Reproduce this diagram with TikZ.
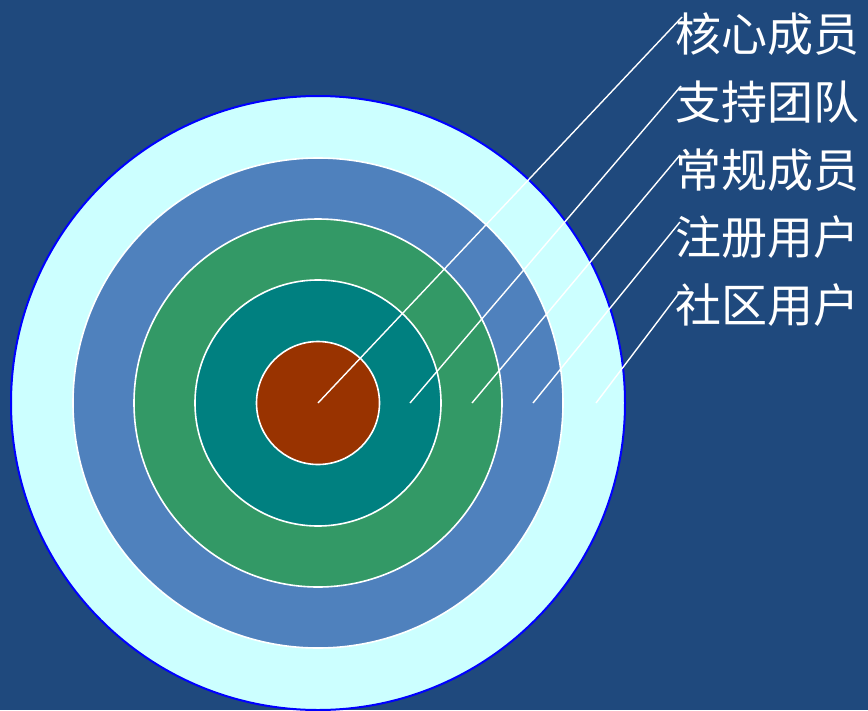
\documentclass[tikz,border=0pt]{standalone}
\usepackage{fontspec}
\newfontfamily\cjk{Noto Sans CJK SC}
\usepackage{tikz}
\usetikzlibrary{positioning}

\definecolor{bgblue}{RGB}{31,73,125}
\definecolor{ringcyan}{RGB}{204,255,255}
\definecolor{ringblue}{RGB}{79,129,189}
\definecolor{ringgreen}{RGB}{51,153,102}
\definecolor{ringteal}{RGB}{0,128,128}
\definecolor{ringred}{RGB}{153,51,0}

\tikzset{
  ring/.style={circle,inner sep=0pt,draw=white,line width=1.6pt},
  lbl/.style={anchor=west,inner sep=0pt,text=white,font=\cjk\fontsize{46}{46}\selectfont},
  leader/.style={draw=white,line width=1.4pt}
}

\begin{document}
\begin{tikzpicture}[x=1pt,y=-1pt]
\fill[bgblue] (0,0) rectangle (868,710);
\useasboundingbox (0,0) rectangle (868,710);
\clip (0,0) rectangle (868,710);

\coordinate (c) at (318,403);
\node[ring,fill=ringcyan,draw=blue,line width=2pt,minimum size=614] (r5) at (c) {};
\node[ring,fill=ringblue,minimum size=490] (r4) at (c) {};
\node[ring,fill=ringgreen,minimum size=368] (r3) at (c) {};
\node[ring,fill=ringteal,minimum size=246] (r2) at (c) {};
\node[ring,fill=ringred,minimum size=123] (r1) at (c) {};

% labels
\node[lbl] (k1) at (675,34) {核心成员};
\node[lbl] (k2) at (675,102) {支持团队};
\node[lbl] (k3) at (675,170) {常规成员};
\node[lbl] (k4) at (675,237) {注册用户};
\node[lbl] (k5) at (675,305) {社区用户};

% leader lines
\coordinate (p1) at (318,403);
\coordinate (p2) at (410,403);
\coordinate (p3) at (472,403);
\coordinate (p4) at (533,403);
\coordinate (p5) at (596,403);
\path[leader]
  (p1) edge ([shift={(7,-17)}]k1.west)
  (p2) edge ([shift={(6,-16)}]k2.west)
  (p3) edge ([shift={(5,-15)}]k3.west)
  (p4) edge ([shift={(5,-15)}]k4.west)
  (p5) edge ([shift={(5,-13)}]k5.west);
\end{tikzpicture}
\end{document}
